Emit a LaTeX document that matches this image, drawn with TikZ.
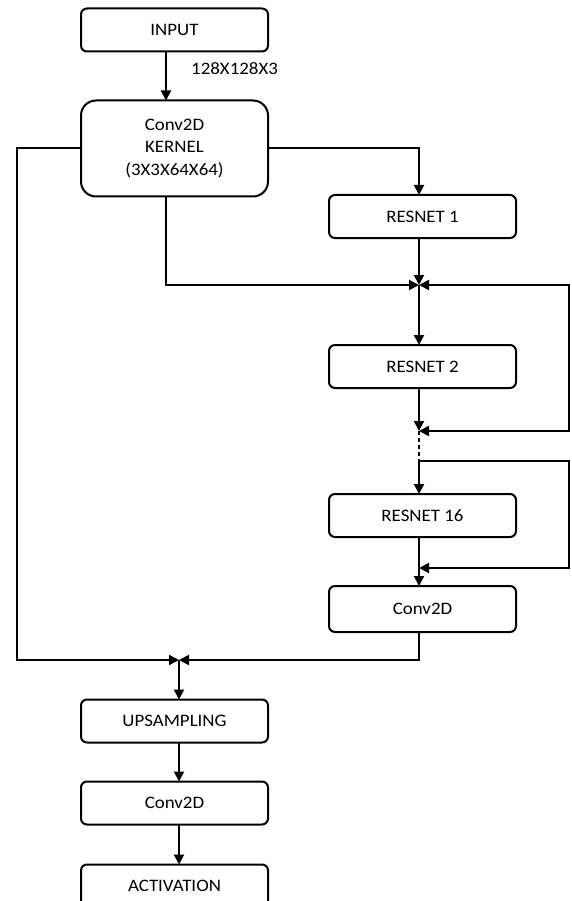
\documentclass[tikz,border=0pt]{standalone}
\usepackage{fontspec}
\setmainfont{Carlito}[FakeStretch=1.08]
\usetikzlibrary{arrows.meta,positioning}
\tikzset{
  box/.style={rounded corners=6pt, draw=black, line width=2pt, fill=white, align=center, minimum width=187pt, minimum height=43pt, inner sep=0pt, outer sep=0pt, font=\fontsize{17.5}{22.5}\selectfont},
  lbl/.style={inner sep=0pt, font=\fontsize{17.5}{22.5}\selectfont},
  arrow/.style={-{Triangle[length=10pt,width=10pt]}, line width=2pt},
  biarrow/.style={{Triangle[length=10pt,width=10pt]}-{Triangle[length=10pt,width=10pt]}, line width=2pt},
  link/.style={line width=2pt}
}

\begin{document}
\begin{tikzpicture}[x=1pt, y=-1pt]
  \useasboundingbox (0,0) rectangle (572,901);

  \node[box] (input) at (174.5,30) {INPUT};
  \node[box, below=49pt of input, minimum height=96pt, rounded corners=15pt] (conv1) {Conv2D\\KERNEL\\(3X3X64X64)};
  \node[lbl, anchor=west] (dimlabel) at (191,69) {128X128X3};
  \node[box, right=61pt of conv1, yshift=-68pt] (res1) {RESNET 1};
  \node[box, below=107pt of res1] (res2) {RESNET 2};
  \node[box, below=106pt of res2] (res16) {RESNET 16};
  \node[box, below=49pt of res16, minimum height=46pt] (conv2) {Conv2D};
  \node[box, below=503pt of conv1] (upsample) {UPSAMPLING};
  \node[box, below=39pt of upsample] (conv3) {Conv2D};
  \node[box, below=40pt of conv3] (activation) {ACTIVATION};

  % join points
  \coordinate (j1) at (419,285);
  \coordinate (j2) at (419,431);
  \coordinate (d1) at (419,461);
  \coordinate (j3) at (419,568);
  \coordinate (j4) at (179,660);

  \draw[arrow] ([xshift=-8.5pt]input.south) -- ([xshift=-8.5pt]conv1.north);
  \draw[arrow] (conv1.west) -- ++(-64,0) |- (j4);
  \draw[arrow] (conv1.east) -| (res1.north -| j1);
  \draw[arrow] ([xshift=-8.5pt]conv1.south) |- (j1);
  \draw[arrow] (res1.south -| j1) -- (j1);
  \draw[biarrow] (j1) -- ++(150,0) |- (j2);
  \draw[arrow] (j1) -- (res2.north -| j1);
  \draw[arrow] (res2.south -| j1) -- (j2);
  \draw[link, dash pattern=on 4pt off 3pt] (j2) -- (d1);
  \draw[arrow] (d1) -- ++(150,0) |- (j3);
  \draw[arrow] (d1) -- (res16.north -| d1);
  \draw[arrow] (res16.south -| j3) -- (conv2.north -| j3);
  \draw[arrow] (conv2.south -| j3) |- (j4);
  \draw[arrow] (j4) -- (upsample.north -| j4);
  \draw[arrow] (upsample.south -| j4) -- (conv3.north -| j4);
  \draw[arrow] (conv3.south -| j4) -- (activation.north -| j4);
\end{tikzpicture}
\end{document}
